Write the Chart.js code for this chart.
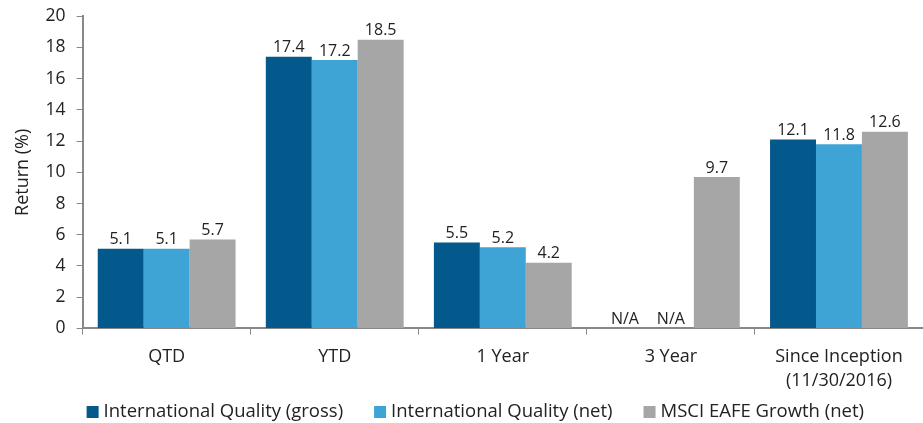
<!DOCTYPE html>
<html>
<head>
<meta charset="utf-8">
<script src="https://cdn.jsdelivr.net/npm/chart.js@4/dist/chart.umd.min.js"></script>
<style>
  html, body { margin: 0; padding: 0; background: #fff; }
  #wrap { width: 923px; height: 423px; }
</style>
</head>
<body>
<div id="wrap"><canvas id="chart-canvas"></canvas></div>
<script>
// data
var categories = ["QTD", "YTD", "1 Year", "3 Year", ["Since Inception", "(11/30/2016)"]];
var seriesNames = ["International Quality (gross)", "International Quality (net)", "MSCI EAFE Growth (net)"];
var grossValues = [5.1, 17.4, 5.5, null, 12.1];
var netValues = [5.1, 17.2, 5.2, null, 11.8];
var benchValues = [5.7, 18.5, 4.2, 9.7, 12.6];
var colors = ["#04598C", "#3EA4D6", "#A6A6A6"];

var fontName = "'Open Sans', sans-serif";
Chart.defaults.font.family = fontName;
Chart.defaults.color = "#222";

// value labels over the bars, N/A where there is no value
var barLabels = {
  id: "barLabels",
  afterDatasetsDraw: function(chart){
    var ctx = chart.ctx;
    var yScale = chart.scales.y;
    ctx.save();
    ctx.font = "16px " + fontName;
    ctx.fillStyle = "#222";
    ctx.textAlign = "center";
    ctx.textBaseline = "bottom";
    chart.data.datasets.forEach(function(ds, di){
      var meta = chart.getDatasetMeta(di);
      meta.data.forEach(function(el, i){
        var v = ds.data[i];
        if (v === null) {
          ctx.fillText("N/A", el.x, yScale.getPixelForValue(0) - 1);
        } else {
          ctx.fillText(v.toFixed(1), el.x, el.y - 1);
        }
      });
    });
    ctx.restore();
  }
};

// legend row under the axis (built-in legend spacing could not be matched)
var bottomLegend = {
  id: "bottomLegend",
  afterDraw: function(chart){
    var ctx = chart.ctx;
    var y = 412;
    var x = chart.chartArea.left + 4;
    ctx.save();
    ctx.font = "18.5px " + fontName;
    ctx.textBaseline = "middle";
    ctx.textAlign = "left";
    chart.data.datasets.forEach(function(ds){
      ctx.fillStyle = ds.backgroundColor;
      ctx.fillRect(x, y - 6, 12, 12);
      ctx.fillStyle = "#222";
      ctx.fillText(ds.label, x + 17, y);
      x += 17 + ctx.measureText(ds.label).width + 31;
    });
    ctx.restore();
  }
};

var ctx = document.getElementById("chart-canvas");
new Chart(ctx, {
  type: "bar",
  data: {
    labels: categories,
    datasets: [
      { label: seriesNames[0], data: grossValues, backgroundColor: colors[0] },
      { label: seriesNames[1], data: netValues, backgroundColor: colors[1] },
      { label: seriesNames[2], data: benchValues, backgroundColor: colors[2] }
    ]
  },
  options: {
    responsive: true,
    maintainAspectRatio: false,
    animation: false,
    layout: { padding: { top: 11, right: 0, left: 10, bottom: 20 } },
    datasets: { bar: { categoryPercentage: 0.82, barPercentage: 1.0 } },
    plugins: {
      legend: { display: false },
      tooltip: { enabled: false }
    },
    scales: {
      x: {
        grid: { display: true, drawOnChartArea: false, offset: true, color: "#888", tickLength: 6, lineWidth: 1 },
        border: { color: "#888", width: 2 },
        ticks: { font: { size: 18, lineHeight: 1.35 }, color: "#222", maxRotation: 0, padding: 10 }
      },
      y: {
        min: 0, max: 20,
        ticks: { stepSize: 2, font: { size: 17.5, lineHeight: 0.6 }, color: "#222", padding: 11 },
        grid: { display: true, drawOnChartArea: false, color: "#888", tickLength: 6 },
        border: { color: "#888", width: 2 },
        title: { display: true, text: "Return (%)", font: { size: 18 }, color: "#222", padding: { top: 2, bottom: 1 } }
      }
    }
  },
  plugins: [barLabels, bottomLegend]
});
</script>
</body>
</html>
